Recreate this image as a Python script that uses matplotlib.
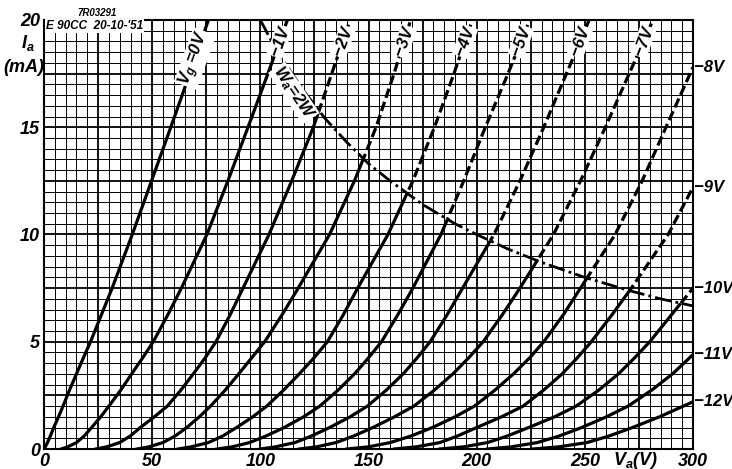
import numpy as np
import matplotlib
matplotlib.use("Agg")
import matplotlib.pyplot as plt
from matplotlib.patches import Polygon

plt.rcParams['font.family'] = ['Liberation Sans', 'DejaVu Sans']
plt.rcParams['font.style'] = 'italic'
plt.rcParams['font.weight'] = 'bold'
plt.rcParams['mathtext.fontset'] = 'custom'
plt.rcParams['mathtext.it'] = 'Liberation Sans:italic:bold'
plt.rcParams['mathtext.rm'] = 'Liberation Sans:italic:bold'
plt.rcParams['lines.scale_dashes'] = False

# ---------------- data ----------------
# anode current levels (mA) at which the anode voltage of each curve was read
ia_std = [0, 0.1, 0.3, 0.6, 1, 1.5, 2, 2.75, 3.5, 4.25, 5, 6.25, 7.5, 10, 12.5, 15, 17.5, 20]

va_g0 = [0, 0.6, 1.6, 2.9, 4.5, 6.7, 8.8, 11.8, 15, 18.2, 21.5, 26.5, 31.5, 40.8, 49.7, 58.6, 67.4, 76]
va_g1 = [8, 11, 15, 18.5, 22, 26.2, 30, 35.5, 40.5, 45.6, 50.5, 57.2, 63.5, 75.3, 85, 94.3, 103.5, 112.5]
va_g2 = [24, 29, 35, 39.8, 44.5, 51, 57, 63.3, 69, 74.5, 79.5, 86, 92, 104, 114.5, 124.5, 133, 141.5]
va_g3 = [43, 48.5, 55, 60.5, 66, 71.8, 77, 83.8, 90, 96, 102, 110, 117.5, 132, 143.5, 153.5, 161.8, 169.5]
va_g4 = [62, 68, 76, 82.5, 89, 96.5, 103, 110.8, 118, 124.8, 131, 138.3, 145, 159, 170.5, 180.5, 189.5, 198]
va_g5 = [80, 87, 95, 102.5, 111, 120, 127.5, 136, 143.5, 150, 156, 163.5, 170.5, 183.5, 194, 204, 214.5, 224.5]
va_g6 = [100, 107, 116, 123.5, 132, 141.5, 149.5, 158.3, 166, 172.5, 178.5, 186.3, 193.5, 208, 220, 231, 241.5, 252]
va_g7 = [118, 126, 135, 143, 152, 162, 171, 180.5, 189, 196.3, 203, 211.8, 220, 235.5, 248, 259.5, 270.5, 281.5]

ia_g8 = [0, 0.1, 0.3, 0.6, 1, 1.5, 2, 2.75, 3.5, 4.25, 5, 6.25, 7.5, 10, 12.5, 15, 17.8]
va_g8 = [140, 150, 160, 169.5, 179.5, 190, 199, 208.5, 217, 224.5, 231, 240, 248, 264, 276.5, 287.5, 300]
ia_g9 = [0, 0.1, 0.3, 0.6, 1, 1.5, 2, 2.75, 3.5, 4.25, 5, 6.25, 7.5, 10, 12.2]
va_g9 = [162, 172, 183, 191, 200, 211.5, 221.5, 231, 239.5, 246.5, 253, 262.5, 271.5, 288.5, 300]
ia_g10 = [0, 0.1, 0.3, 0.6, 1, 1.5, 2, 2.75, 3.5, 4.25, 5, 6.25, 7.5]
va_g10 = [183, 194, 205, 214, 224, 236, 246, 256.5, 265.5, 273, 280, 290, 300]
ia_g11 = [0, 0.1, 0.3, 0.6, 1, 1.5, 2, 2.75, 3.5, 4.4]
va_g11 = [205, 216, 228, 238, 248.5, 260, 270, 281, 290.5, 300]
ia_g12 = [0, 0.1, 0.3, 0.6, 1, 1.5, 2.2]
va_g12 = [226, 238, 251, 261, 272, 284.5, 300]

top_labels = [r"$V_g$ =0V", "−1V", "−2V", "−3V", "−4V", "−5V", "−6V", "−7V"]
side_labels = ["−8V", "−9V", "−10V", "−11V", "−12V"]

# max anode dissipation Wa = 2 W
hyp_va = [100, 105, 110, 120, 130, 140, 150, 160, 175, 190, 200, 215, 230, 250, 270, 285, 300]
hyp_ia = [20, 19.05, 18.2, 16.7, 15.4, 14.3, 13.3, 12.5, 11.4, 10.5, 10, 9.3, 8.7, 8.0, 7.4, 7.0, 6.67]

x_ticks = [0, 50, 100, 150, 200, 250, 300]
y_ticks = [0, 5, 10, 15, 20]

# ---------------- figure ----------------
W, H = 732, 469
fig = plt.figure(figsize=(W / 100, H / 100), dpi=100)
L, R, T, B = 44, 693, 20, 449
ax = fig.add_axes([L / W, 1 - B / H, (R - L) / W, (B - T) / H])
ax.set_xlim(0, 300)
ax.set_ylim(0, 20)

# grid
for v in np.arange(5, 300, 5):
    lw = 1.3 if v % 25 == 0 else 0.7
    ax.axvline(v, color='black', lw=lw, zorder=1)
for i in np.arange(0.5, 20, 0.5):
    lw = 1.3 if abs(i % 2.5) < 1e-9 else 0.7
    ax.axhline(i, color='black', lw=lw, zorder=1)
for s in ax.spines.values():
    s.set_linewidth(1.5)

ax.set_xticks(x_ticks)
ax.set_yticks(y_ticks)
ax.set_xticklabels([str(v) for v in x_ticks])
ax.set_yticklabels([str(v) for v in y_ticks])
ax.tick_params(length=0, labelsize=13, pad=3)

# clip regions (below / above the dissipation curve)
below = [(-10, -2), (-10, 25), (hyp_va[0], 25)] + list(zip(hyp_va, hyp_ia)) + [(310, hyp_ia[-1]), (310, -2)]
above = [(hyp_va[0], 25)] + list(zip(hyp_va, hyp_ia)) + [(310, hyp_ia[-1]), (310, 25)]
clip_below = Polygon(below, closed=True, transform=ax.transData)
clip_above = Polygon(above, closed=True, transform=ax.transData)

top_curves = [va_g0, va_g1, va_g2, va_g3, va_g4, va_g5, va_g6, va_g7]
side_curves = [(va_g8, ia_g8), (va_g9, ia_g9), (va_g10, ia_g10), (va_g11, ia_g11), (va_g12, ia_g12)]

def draw_curve(va, ia):
    l1, = ax.plot(va, ia, color='black', lw=2.3, zorder=3, solid_joinstyle='round')
    l1.set_clip_path(clip_below)
    l2, = ax.plot(va, ia, color='black', lw=2.3, zorder=3, linestyle=(0, (7, 3)))
    l2.set_clip_path(clip_above)

for va in top_curves:
    draw_curve(va, ia_std)
for va, ia in side_curves:
    draw_curve(va, ia)

# dissipation curve
ax.plot(hyp_va, hyp_ia, color='black', lw=2.0, zorder=3,
        linestyle=(0, (12, 3, 2, 3)))

# labels on curves
for k, (va, lab) in enumerate(zip(top_curves, top_labels)):
    yl = 18.2 if k == 0 else 19.0
    x = np.interp(yl, ia_std, va)
    ax.text(x, yl, lab, rotation=70, ha='center', va='center', fontsize=12,
            zorder=5, bbox=dict(boxstyle='square,pad=0.05', fc='white', ec='none'))
for (va, ia), lab in zip(side_curves, side_labels):
    ax.text(300.5, ia[-1], lab, ha='left', va='center', fontsize=12, clip_on=False)

ax.text(115.5, 16.6, r"$W_a$=2W", rotation=-56, ha='center', va='center', fontsize=12,
        zorder=5, bbox=dict(boxstyle='square,pad=0.05', fc='white', ec='none'))

# annotations
ax.text(1, 19.72, "E 90CC  20-10-'51", ha='left', va='center', fontsize=8.5, zorder=5,
        bbox=dict(boxstyle='square,pad=0.1', fc='white', ec='none'))
fig.text(97 / W, 1 - 13 / H, "7R03291", ha='center', va='center', fontsize=7)
fig.text(28 / W, 1 - 43 / H, r"$I_a$", ha='center', va='center', fontsize=13)
fig.text(24 / W, 1 - 67 / H, "(mA)", ha='center', va='center', fontsize=13)
fig.text(635 / W, 1 - 460 / H, r"$V_a$(V)", ha='center', va='center', fontsize=13)

fig.savefig("out.png", dpi=100)
